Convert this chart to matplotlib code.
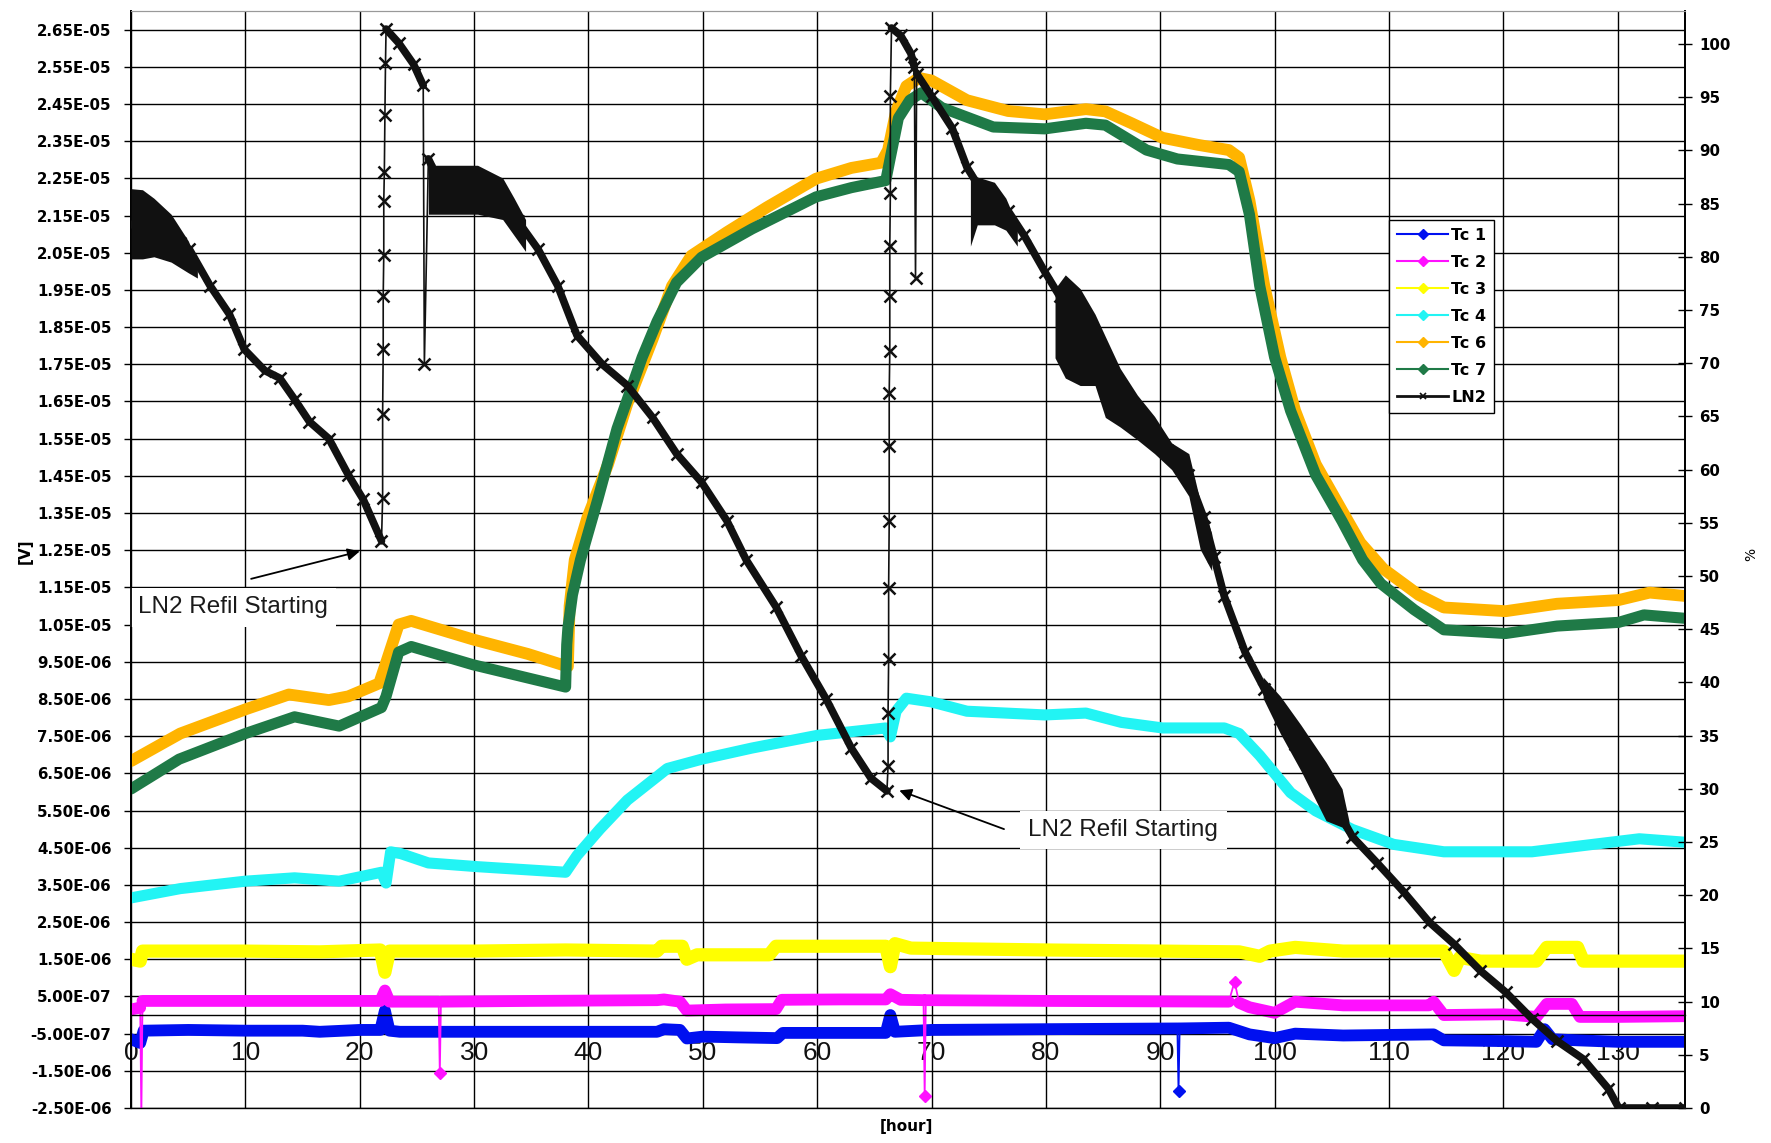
import numpy as np
import matplotlib
matplotlib.use('Agg')
import matplotlib.pyplot as plt
from matplotlib.lines import Line2D

# ---------------- data (hours, microvolts) ----------------
tc1_h = [0.0, 0.8, 1.1, 5, 10, 15, 16.5, 20, 21.8, 22.2, 22.6, 23.5, 30, 40, 46.0, 46.6, 48.0, 48.6,
         50.0, 53, 56.5, 57.0, 62, 66.0, 66.4, 66.8, 70, 80, 91.5, 91.6, 91.7, 96.0, 97.8, 100.0,
         101.8, 106, 113.9, 114.8, 120, 122.9, 123.6, 124.3, 126.5, 130, 136.2]
tc1_uv = [-0.65, -0.75, -0.42, -0.40, -0.42, -0.42, -0.45, -0.40, -0.40, 0.12, -0.42, -0.45, -0.45,
          -0.45, -0.45, -0.38, -0.40, -0.63, -0.58, -0.60, -0.62, -0.48, -0.48, -0.48, 0.0, -0.45,
          -0.40, -0.38, -0.36, -2.05, -0.36, -0.34, -0.52, -0.62, -0.50, -0.55, -0.52, -0.68, -0.70,
          -0.72, -0.38, -0.65, -0.68, -0.72, -0.72]

tc2_h = [0.0, 0.8, 0.9, 1.0, 5, 15, 21.8, 22.2, 22.6, 26.9, 27.0, 27.1, 35, 46.0, 46.6, 48.0, 48.6,
         52, 56.4, 56.9, 62, 66.0, 66.4, 67.3, 69.3, 69.4, 69.5, 80, 96.0, 96.5, 96.9, 97.8, 100.0,
         101.8, 106, 113.5, 113.9, 114.8, 120, 122.9, 123.8, 126.0, 126.7, 130, 136.2]
tc2_uv = [0.15, 0.20, -2.7, 0.38, 0.38, 0.38, 0.38, 0.66, 0.36, 0.36, -1.57, 0.36, 0.38, 0.40, 0.42,
          0.36, 0.12, 0.15, 0.16, 0.41, 0.42, 0.42, 0.56, 0.41, 0.40, -2.17, 0.40, 0.38, 0.36, 0.90,
          0.33, 0.21, 0.06, 0.36, 0.26, 0.26, 0.36, 0.0, 0.02, -0.05, 0.30, 0.30, -0.05, -0.05, -0.03]

tc3_h = [0.0, 0.8, 1.0, 10, 16.5, 21.8, 22.2, 22.6, 30, 38, 46.0, 46.4, 48.2, 48.6, 49.5, 55.8, 56.4,
         62, 66.0, 66.4, 66.8, 68.2, 80, 96.9, 98.7, 99.6, 101.8, 106, 114.8, 115.7, 116.2, 118.0,
         122.9, 123.8, 126.5, 127.0, 130, 136.2]
tc3_uv = [1.50, 1.45, 1.72, 1.72, 1.70, 1.75, 1.15, 1.72, 1.72, 1.75, 1.72, 1.85, 1.85, 1.50, 1.62,
          1.62, 1.85, 1.85, 1.85, 1.30, 1.92, 1.80, 1.75, 1.70, 1.58, 1.72, 1.82, 1.72, 1.72, 1.20,
          1.55, 1.45, 1.45, 1.82, 1.82, 1.45, 1.45, 1.45]

tc4_h = [0.0, 4.3, 10, 14.3, 18.2, 21.9, 22.3, 22.7, 23.6, 26.0, 30.3, 38.0, 39.0, 41.0, 43.4, 46.9,
         49.9, 54.3, 60.0, 66.0, 66.4, 66.9, 67.8, 70.0, 73.1, 79.9, 83.5, 86.6, 90.2, 95.6, 96.9,
         98.7, 101.4, 103.6, 106.8, 110.4, 114.8, 122.5, 129.2, 131.9, 136.2]
tc4_uv = [3.15, 3.40, 3.60, 3.69, 3.60, 3.84, 3.55, 4.39, 4.34, 4.09, 3.99, 3.84, 4.29, 5.00, 5.78,
          6.63, 6.88, 7.18, 7.52, 7.72, 7.48, 8.17, 8.52, 8.42, 8.17, 8.07, 8.12, 7.87, 7.72, 7.72,
          7.57, 6.98, 5.98, 5.49, 4.99, 4.59, 4.39, 4.39, 4.64, 4.74, 4.64]

tc6_h = [0.0, 4.3, 10.0, 13.8, 17.3, 19.0, 21.7, 22.3, 23.4, 24.5, 29.9, 34.7, 38.2, 38.35, 38.8,
         39.9, 41.7, 43.4, 45.6, 47.3, 49.0, 52.1, 55.6, 59.9, 63.0, 65.6, 66.2, 66.9, 67.8, 68.9,
         70.0, 73.1, 76.7, 79.9, 83.5, 85.2, 87.5, 90.2, 93.3, 96.0, 96.9, 97.8, 99.1, 100.5, 101.8,
         103.6, 105.9, 107.5, 109.5, 112.6, 114.8, 120.2, 124.7, 130.1, 132.8, 136.2]
tc6_uv = [6.83, 7.57, 8.22, 8.62, 8.47, 8.57, 8.92, 9.47, 10.50, 10.60, 10.10, 9.71, 9.37, 11.0,
          12.24, 13.37, 14.80, 16.44, 18.17, 19.60, 20.42, 21.05, 21.72, 22.49, 22.78, 22.92, 23.26,
          24.30, 24.98, 25.20, 25.13, 24.60, 24.31, 24.22, 24.36, 24.30, 23.98, 23.59, 23.40, 23.26,
          23.06, 21.91, 19.61, 17.69, 16.25, 14.81, 13.56, 12.70, 12.00, 11.30, 10.96, 10.86, 11.06,
          11.16, 11.36, 11.26]

tc7_h = [0.0, 4.2, 10.0, 14.3, 18.2, 21.9, 22.3, 23.4, 24.5, 29.9, 38.0, 38.1, 38.2, 38.6, 39.3,
         40.8, 42.5, 44.7, 46.0, 47.7, 49.9, 54.3, 59.9, 63.0, 66.0, 66.4, 67.1, 68.1, 69.1, 70.9,
         75.4, 79.9, 83.5, 85.2, 88.8, 91.5, 96.0, 96.9, 97.8, 98.7, 100.0, 101.4, 103.6, 105.9,
         107.7, 109.3, 112.2, 114.8, 120.2, 124.7, 130.1, 132.3, 136.2]
tc7_uv = [6.08, 6.88, 7.57, 8.02, 7.77, 8.27, 8.57, 9.76, 9.91, 9.42, 8.82, 9.96, 10.40, 11.30,
          12.24, 13.85, 15.77, 17.69, 18.65, 19.70, 20.38, 21.14, 22.00, 22.25, 22.44, 23.06, 24.12,
          24.60, 24.80, 24.40, 23.88, 23.83, 23.98, 23.93, 23.26, 23.02, 22.87, 22.68, 21.53, 19.61,
          17.69, 16.25, 14.52, 13.28, 12.24, 11.60, 10.90, 10.36, 10.26, 10.46, 10.56, 10.76, 10.66]

# LN2 level (%), right axis
ln2_h = [0.0, 1.0, 2.1, 3.2, 4.3, 5.1, 6.9, 8.6, 9.9, 11.7, 13.0, 14.3, 15.6, 17.3, 19.0, 20.3, 21.9,
         22.0, 22.0, 22.05, 22.05, 22.1, 22.1, 22.15, 22.2, 22.25, 22.3,
         23.4, 24.7, 25.55, 25.65, 26.0, 27.0, 28.2, 30.3, 32.0, 33.8, 35.6, 37.3, 39.0, 41.2, 43.4,
         45.6, 47.7, 49.9, 52.1, 53.8, 56.4, 58.6, 60.8, 63.0, 64.7, 66.1,
         66.2, 66.2, 66.25, 66.25, 66.3, 66.3, 66.3, 66.35, 66.35, 66.35, 66.4, 66.4, 66.5,
         67.3, 68.2, 68.5, 68.6, 68.7, 70.0, 71.8, 73.1, 74.9, 76.7, 78.1, 79.9, 81.2, 83.0, 85.2,
         87.0, 88.8, 90.6, 92.4, 93.8, 94.7, 95.6, 97.4, 99.1, 100.5, 101.8, 103.6, 105.4, 106.8,
         109.0, 111.3, 113.5, 115.7, 118.0, 120.2, 122.5, 124.7, 127.0, 129.2, 130.1, 133.0, 135.9]
ln2_pct = [83.0, 83.5, 83.0, 82.3, 81.3, 80.7, 77.3, 74.6, 71.3, 69.3, 68.6, 66.6, 64.5, 62.9, 59.5,
           57.2, 53.3,
           57.3, 65.2, 71.3, 76.3, 80.2, 85.2, 88.0, 93.3, 98.2, 101.4,
           100.1, 98.1, 96.1, 69.9, 89.2, 87.0, 86.7, 86.0, 85.3, 83.4, 80.7, 77.3, 72.6, 69.9, 67.9,
           64.9, 61.5, 58.8, 55.2, 51.5, 47.1, 42.5, 38.4, 33.8, 31.0, 29.8,
           32.1, 37.1, 42.2, 48.9, 55.2, 62.2, 67.2, 71.1, 76.3, 81.0, 86.0, 95.1, 101.5,
           100.8, 99.1, 97.8, 78.0, 97.2, 95.1, 92.1, 88.4, 85.3, 84.3, 82.0, 78.6, 76.3, 72.3, 68.9,
           66.6, 64.5, 61.8, 59.5, 55.5, 51.8, 48.1, 42.9, 39.4, 36.6, 34.2, 31.0, 28.2, 25.5,
           23.0, 20.3, 17.5, 15.4, 12.9, 10.9, 8.4, 6.3, 4.6, 1.8, 0.0, 0.0, 0.0]

# noisy LN2 envelopes (hour, upper %, lower %)
band1_h = [0.0, 1.0, 2.0, 3.5, 5.0, 5.8]
band1_hi = [86.4, 86.3, 85.5, 84.0, 81.5, 79.5]
band1_lo = [79.8, 79.8, 80.0, 79.5, 78.5, 78.0]
band2_h = [26.0, 26.5, 30.3, 32.5, 33.5, 34.5]
band2_hi = [88.6, 88.6, 88.6, 87.4, 85.5, 83.5]
band2_lo = [84.0, 84.0, 84.0, 83.5, 82.0, 80.5]
band3_h = [73.4, 74.0, 75.5, 76.5, 77.5]
band3_hi = [87.5, 87.5, 87.0, 85.5, 83.0]
band3_lo = [81.0, 83.0, 83.0, 82.5, 81.0]
band4_h = [80.8, 81.7, 83.0, 84.3, 85.2, 86.5, 88.0, 89.5, 91.0, 92.5, 93.5, 94.5]
band4_hi = [77.0, 78.3, 77.0, 74.6, 72.5, 69.5, 67.0, 65.0, 62.5, 61.5, 57.0, 54.0]
band4_lo = [70.5, 68.6, 67.9, 67.9, 64.9, 64.0, 62.8, 61.5, 60.0, 57.5, 52.5, 50.5]
band5_h = [99.0, 100.5, 102.3, 104.5, 105.9, 106.5]
band5_hi = [40.5, 38.7, 36.0, 32.5, 30.0, 27.0]
band5_lo = [38.5, 35.2, 31.7, 27.0, 26.4, 25.5]

series_names = ['Tc 1', 'Tc 2', 'Tc 3', 'Tc 4', 'Tc 6', 'Tc 7', 'LN2']
series_colors = ['#0010F0', '#FF10FF', '#FFFF00', '#22F4F4', '#FFB400', '#1F7A47', '#111111']

x_ticks = [0, 10, 20, 30, 40, 50, 60, 70, 80, 90, 100, 110, 120, 130]
left_ticks_uv = [-2.5, -1.5, -0.5, 0.5, 1.5, 2.5, 3.5, 4.5, 5.5, 6.5, 7.5, 8.5, 9.5, 10.5, 11.5,
                 12.5, 13.5, 14.5, 15.5, 16.5, 17.5, 18.5, 19.5, 20.5, 21.5, 22.5, 23.5, 24.5,
                 25.5, 26.5]
left_tick_labels = ['-2.50E-06', '-1.50E-06', '-5.00E-07', '5.00E-07', '1.50E-06', '2.50E-06',
                    '3.50E-06', '4.50E-06', '5.50E-06', '6.50E-06', '7.50E-06', '8.50E-06',
                    '9.50E-06', '1.05E-05', '1.15E-05', '1.25E-05', '1.35E-05', '1.45E-05',
                    '1.55E-05', '1.65E-05', '1.75E-05', '1.85E-05', '1.95E-05', '2.05E-05',
                    '2.15E-05', '2.25E-05', '2.35E-05', '2.45E-05', '2.55E-05', '2.65E-05']
right_ticks = [0, 5, 10, 15, 20, 25, 30, 35, 40, 45, 50, 55, 60, 65, 70, 75, 80, 85, 90, 95, 100]

# ---------------- figure ----------------
plt.rcParams['font.family'] = ['DejaVu Sans']
S = 1e-6
fig = plt.figure(figsize=(17.71, 11.43), dpi=100)
ax = fig.add_axes([0.0740, 0.0306, 0.8775, 0.9598])
ax2 = ax.twinx()


def draw_tc(h, uv, color, lw, spike_h):
    h = np.asarray(h, float)
    v = np.asarray(uv, float) * S
    idx = [int(np.argmin(np.abs(h - s))) for s in spike_h]
    thick = v.copy()
    thick[idx] = np.nan
    ax.plot(h, thick, color=color, lw=lw, solid_capstyle='round', solid_joinstyle='round', zorder=2)
    for i in idx:
        ax.plot(h[i - 1:i + 2], v[i - 1:i + 2], color=color, lw=1.3, zorder=2)
        ax.plot([h[i]], [v[i]], marker='D', ms=6, color=color, zorder=2)


draw_tc(tc1_h, tc1_uv, series_colors[0], 8.5, [91.6])
draw_tc(tc2_h, tc2_uv, series_colors[1], 8.5, [0.9, 27.0, 69.4, 96.5])
draw_tc(tc3_h, tc3_uv, series_colors[2], 9.5, [])
draw_tc(tc4_h, tc4_uv, series_colors[3], 8.0, [])
draw_tc(tc6_h, tc6_uv, series_colors[4], 8.5, [])
draw_tc(tc7_h, tc7_uv, series_colors[5], 8.0, [])

# LN2
lh = np.asarray(ln2_h, float)
lp = np.asarray(ln2_pct, float)
k_col = series_colors[6]
ax2.plot(lh, lp, color=k_col, lw=1.2, marker='x', ms=9, mew=1.8, zorder=3)
rate = np.abs(np.diff(lp)) / np.maximum(np.diff(lh), 1e-3)
start = 0
for k, r in enumerate(rate):
    if r > 15:
        if k > start:
            ax2.plot(lh[start:k + 1], lp[start:k + 1], color=k_col, lw=5.5,
                     solid_capstyle='round', solid_joinstyle='round', zorder=3)
        start = k + 1
if start < len(lh) - 1:
    ax2.plot(lh[start:], lp[start:], color=k_col, lw=5.5, solid_capstyle='round',
             solid_joinstyle='round', zorder=3)
for bh, bhi, blo in [(band1_h, band1_hi, band1_lo), (band2_h, band2_hi, band2_lo),
                     (band3_h, band3_hi, band3_lo), (band4_h, band4_hi, band4_lo),
                     (band5_h, band5_hi, band5_lo)]:
    ax2.fill_between(bh, blo, bhi, color=k_col, lw=0, zorder=3)

# axes styling
ax.set_xlim(0, 135.9)
ax.set_ylim(-2.5 * S, 27.0 * S)
ax2.set_ylim(0, 103.1)

ax.set_xticks(x_ticks)
ax.set_xticklabels([str(t) for t in x_ticks])
ax.set_yticks([t * S for t in left_ticks_uv])
ax.set_yticklabels(left_tick_labels, fontweight='bold')
ax2.set_yticks(right_ticks)
ax2.set_yticklabels([str(t) for t in right_ticks], fontweight='bold')

ax.grid(True, color='black', lw=1.0)
ax.set_axisbelow(True)
ax.spines['bottom'].set_position(('data', 0))
ax.spines['bottom'].set_linewidth(1.0)
ax.tick_params(axis='x', length=0, pad=19, labelsize=19, labelcolor='#111111',
               labelfontfamily='Liberation Sans')
ax.tick_params(axis='y', direction='out', length=5, width=1, pad=9, labelsize=10.8)
ax2.tick_params(axis='y', direction='inout', length=10, width=1, pad=5, labelsize=10.8)
for lbl in ax.get_yticklabels() + ax2.get_yticklabels():
    lbl.set_fontweight('bold')
for sp in ['left', 'right']:
    ax.spines[sp].set_linewidth(1.3)
    ax2.spines[sp].set_linewidth(1.3)
for a in (ax, ax2):
    a.spines['top'].set_color('#999999')
    a.spines['top'].set_linewidth(0.8)
ax2.spines['bottom'].set_linewidth(1.0)

# annotations
ax.text(0.6, 10.80 * S, 'LN2 Refil Starting', fontsize=17.5, family='Liberation Sans',
        color='#1a1a1a', ha='left', va='baseline', zorder=3,
        bbox=dict(facecolor='white', edgecolor='none', pad=6))
ax.annotate('', xy=(20.0, 12.47 * S), xytext=(10.5, 11.73 * S),
            arrowprops=dict(arrowstyle='-|>', color='black', lw=1.3, mutation_scale=18,
                            shrinkA=0, shrinkB=0), zorder=3)
ax.text(78.47, 4.81 * S, 'LN2 Refil Starting', fontsize=17.5, family='Liberation Sans',
        color='#1a1a1a', ha='left', va='baseline', zorder=3,
        bbox=dict(facecolor='white', edgecolor='none', pad=6))
ax.annotate('', xy=(67.18, 6.04 * S), xytext=(76.34, 5.0 * S),
            arrowprops=dict(arrowstyle='-|>', color='black', lw=1.3, mutation_scale=18,
                            shrinkA=0, shrinkB=0), zorder=3)

# axis labels
fig.text(0.5116, 0.014, '[hour]', ha='center', va='center', fontsize=11, fontweight='bold')
fig.text(0.0141, 0.518, '[V]', ha='center', va='center', fontsize=11, fontweight='bold', rotation=90)
fig.text(0.9887, 0.515, '%', ha='center', va='center', fontsize=10, rotation=90)

# legend
handles = []
for name, col in zip(series_names, series_colors):
    if name == 'LN2':
        handles.append(Line2D([], [], color=col, lw=2, marker='x', ms=5, mew=1.2))
    else:
        handles.append(Line2D([], [], color=col, lw=1.5, marker='D', ms=5))
leg = ax2.legend(handles, series_names, loc='upper left', bbox_to_anchor=(0.8095, 0.8095),
                 borderaxespad=0, frameon=True, fancybox=False, edgecolor='black', framealpha=1,
                 prop={'weight': 'bold', 'size': 11.5}, handlelength=3.2, handletextpad=0.2,
                 labelspacing=0.75, borderpad=0.5)
leg.get_frame().set_linewidth(1.0)
leg.set_zorder(10)

fig.savefig('out.png', dpi=100, facecolor='white')
